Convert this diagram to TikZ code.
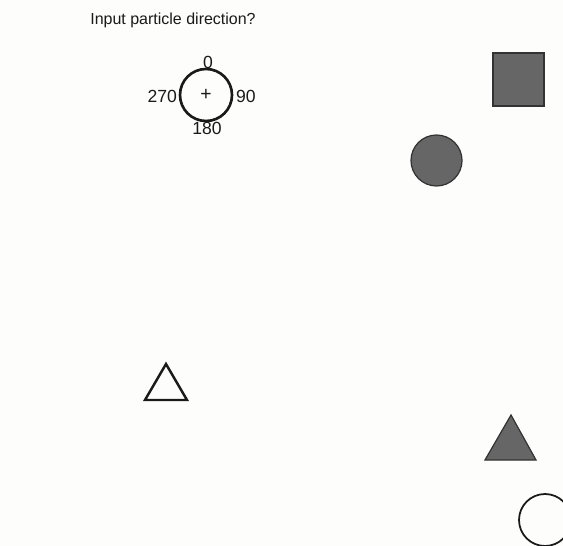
\documentclass[tikz,border=0pt]{standalone}
\usepackage{fontspec}
\setmainfont{Liberation Sans}
\usetikzlibrary{
  positioning,
  calc
}
\definecolor{ptInk}{HTML}{1A1A1A}
\definecolor{ptFill}{HTML}{666666}
\definecolor{ptEdge}{HTML}{333333}
\definecolor{ptPaper}{HTML}{FDFDFB}
\tikzset{
  prompt/.style={font=\fontsize{9.1}{11}\selectfont, text=ptInk, inner sep=0pt},
  dialnum/.style={font=\fontsize{10}{12}\selectfont, text=ptInk, inner sep=1pt},
  dialring/.style={draw=ptInk, line width=1.5pt},
  solid shape/.style={fill=ptFill, draw=ptEdge, line width=0.7pt},
  hollow shape/.style={draw=ptInk, line width=1.4pt, line join=miter}
}

\begin{document}
\begin{tikzpicture}[x=0.02cm, y=-0.02cm]
  \fill[ptPaper] (0,0) rectangle (563,546);
  \useasboundingbox (0,0) rectangle (563,546);

  % prompt and direction dial
  \node[prompt, anchor=west] (ask) at (90,20) {Input particle direction?};
  \coordinate (dial) at (206,95);
  \draw[dialring] (dial) circle (26);
  \node[dialnum, font=\fontsize{11}{12}\selectfont] (plus) at (dial) {+};
  \node[dialnum, anchor=south] (n0) at (208,71) {0};
  \node[dialnum, anchor=east] (n270) at (179,96) {270};
  \node[dialnum, anchor=west] (n90) at (234,96) {90};
  \node[dialnum, anchor=north] (n180) at (207,120) {180};

  % particles
  \draw[solid shape] (493,53) rectangle (544,106);
  \draw[solid shape] (436.5,160.5) circle (25.5);
  \draw[hollow shape] (166,364) -- (187,400) -- (145,400) -- cycle;
  \draw[solid shape] (511,415) -- (536,460) -- (485,460) -- cycle;
  \draw[hollow shape, line width=1pt] (545,520) circle (26);
\end{tikzpicture}
\end{document}
